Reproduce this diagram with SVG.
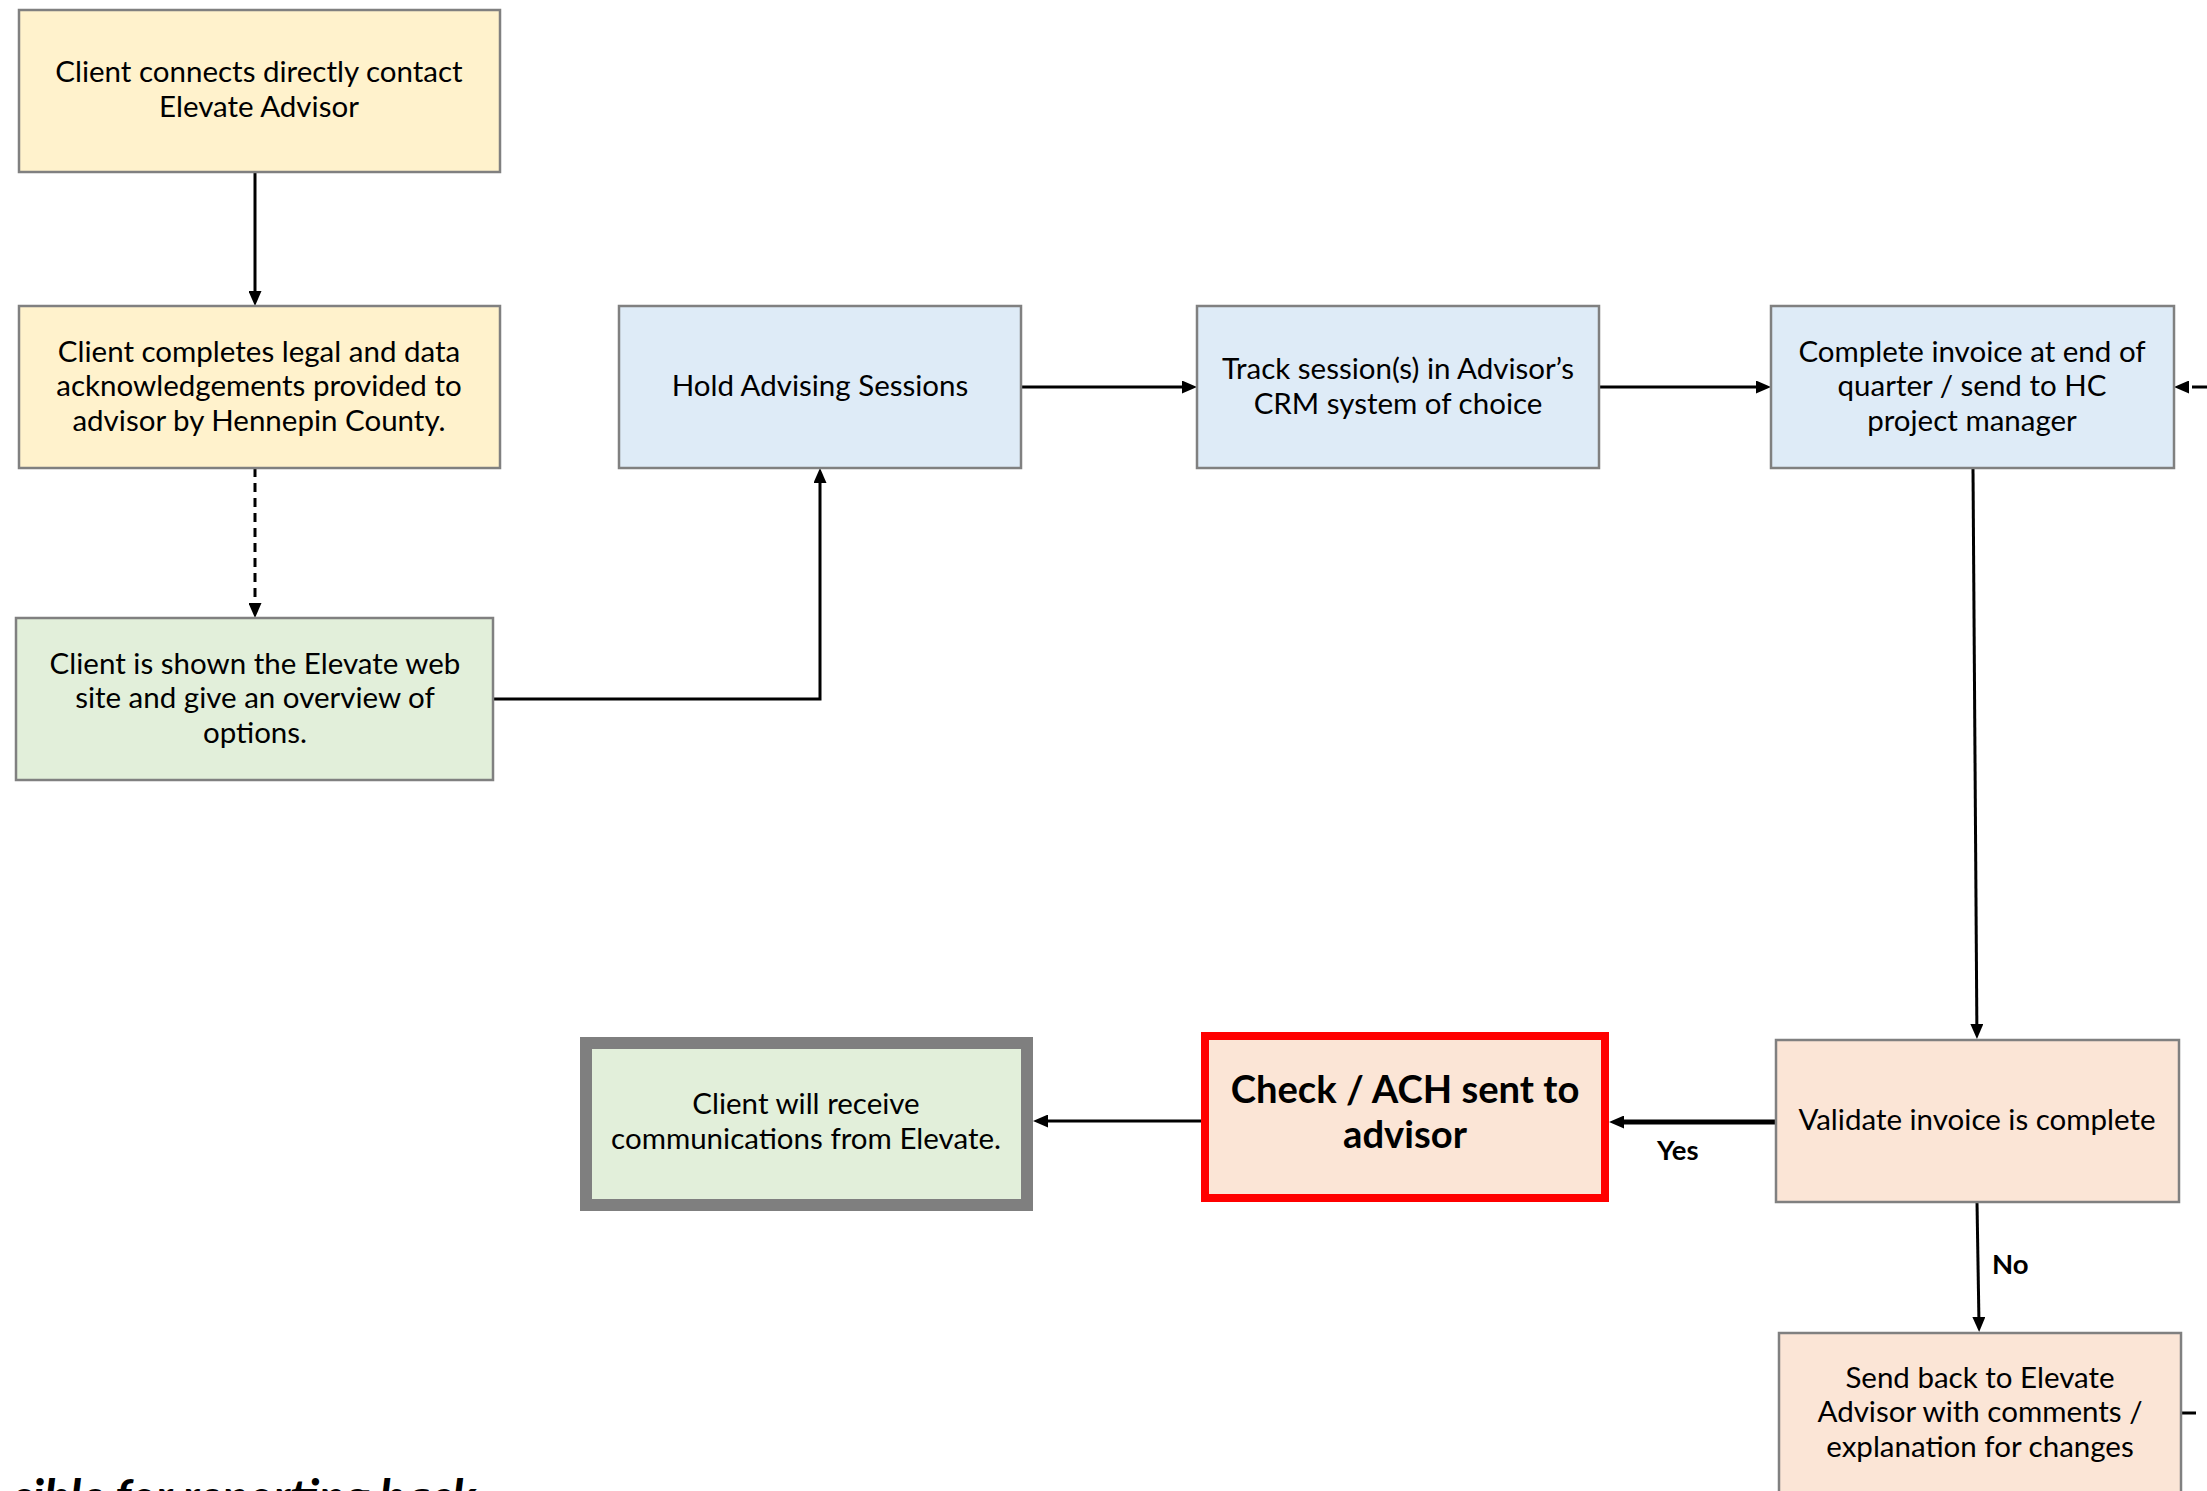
<svg xmlns="http://www.w3.org/2000/svg" width="2207" height="1491" viewBox="0 0 2207 1491">
<style>
.n{stroke:#808080;stroke-width:2.5}
.y{fill:#FFF2CC}.b{fill:#DEEBF7}.g{fill:#E2EFDA}.p{fill:#FBE5D6}
.t{font-family:Lato,"Liberation Sans",sans-serif;font-size:29.5px;fill:#000;text-anchor:middle}
.bt{font-family:Lato,"Liberation Sans",sans-serif;font-weight:bold;fill:#000}
.c{fill:none;stroke:#000;stroke-width:3}
.thick{stroke-width:5}
</style>
<defs>
<marker id="ah" viewBox="0 0 15 13" refX="7" refY="6.5" markerWidth="15" markerHeight="13" markerUnits="userSpaceOnUse" orient="auto">
<path d="M0 0L15 6.5L0 13z" fill="#000"/>
</marker>
</defs>
<rect width="2207" height="1491" fill="#fff"/>
<g id="connectors">
<path class="c" d="M255 172V298" marker-end="url(#ah)"/>
<path class="c" d="M255 468V610" stroke-dasharray="9 6" marker-end="url(#ah)"/>
<path class="c" d="M493 699H820V476" marker-end="url(#ah)"/>
<path class="c" d="M1021 387H1189" marker-end="url(#ah)"/>
<path class="c" d="M1599 387H1763" marker-end="url(#ah)"/>
<path class="c" d="M1973 469L1976.9 1031" marker-end="url(#ah)"/>
<path class="c thick" d="M1776 1122H1617" marker-end="url(#ah)"/>
<path class="c" d="M1202 1121H1041" marker-end="url(#ah)"/>
<path class="c" d="M1977 1202L1979 1324" marker-end="url(#ah)"/>
<path class="c" d="M2181 1413H2234.5V387H2182" stroke-dasharray="15 12" marker-end="url(#ah)"/>
<text class="bt" x="1657" y="1160" font-size="27.5">Yes</text>
<text class="bt" x="1992" y="1274" font-size="27.5">No</text>
</g>
<g id="n1"><rect class="n y" x="19" y="10" width="481" height="162"/>
<text class="t" x="259" y="82">Client connects directly contact</text>
<text class="t" x="259" y="117">Elevate Advisor</text></g>
<g id="n2"><rect class="n y" x="19" y="306" width="481" height="162"/>
<text class="t" x="259" y="362">Client completes legal and data</text>
<text class="t" x="259" y="396">acknowledgements provided to</text>
<text class="t" x="259" y="431">advisor by Hennepin County.</text></g>
<g id="n3"><rect class="n g" x="16" y="618" width="477" height="162"/>
<text class="t" x="255" y="674">Client is shown the Elevate web</text>
<text class="t" x="255" y="708">site and give an overview of</text>
<text class="t" x="255" y="743">options.</text></g>
<g id="n4"><rect class="n b" x="619" y="306" width="402" height="162"/>
<text class="t" x="820" y="396">Hold Advising Sessions</text></g>
<g id="n5"><rect class="n b" x="1197" y="306" width="402" height="162"/>
<text class="t" x="1398" y="379">Track session(s) in Advisor’s</text>
<text class="t" x="1398" y="414">CRM system of choice</text></g>
<g id="n6"><rect class="n b" x="1771" y="306" width="403" height="162"/>
<text class="t" x="1972" y="362">Complete invoice at end of</text>
<text class="t" x="1972" y="396">quarter / send to HC</text>
<text class="t" x="1972" y="431">project manager</text></g>
<g id="n7"><rect class="n p" x="1776" y="1040" width="403" height="162"/>
<text class="t" x="1977" y="1130">Validate invoice is complete</text></g>
<g id="n8"><rect class="n p" x="1779" y="1333" width="402" height="200"/>
<text class="t" x="1980" y="1388">Send back to Elevate</text>
<text class="t" x="1980" y="1422">Advisor with comments /</text>
<text class="t" x="1980" y="1457">explanation for changes</text></g>
<g id="n9"><rect class="p" x="1205" y="1036" width="400" height="162" stroke="#FF0000" stroke-width="8"/>
<text class="bt" x="1405" y="1103" font-size="38.2" text-anchor="middle">Check / ACH sent to</text>
<text class="bt" x="1405" y="1148" font-size="38.2" text-anchor="middle">advisor</text></g>
<g id="n10"><rect class="g" x="586" y="1043" width="441" height="162" stroke="#7F7F7F" stroke-width="12"/>
<text class="t" x="806" y="1114">Client will receive</text>
<text class="t" x="806" y="1149">communications from Elevate.</text></g>
<text class="bt" x="476" y="1514" font-size="48" font-style="italic" text-anchor="end">sible for reporting back</text>
</svg>
